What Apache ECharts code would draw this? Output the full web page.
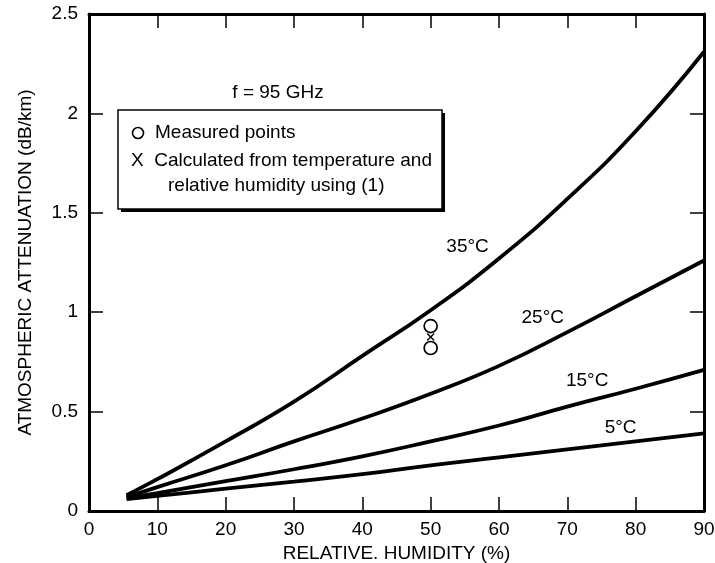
<!DOCTYPE html>
<html>
<head>
<meta charset="utf-8">
<script src="https://cdn.jsdelivr.net/npm/echarts@6/dist/echarts.min.js"></script>
<style>
  html, body { margin: 0; padding: 0; background: #fff; }
  #chart { width: 715px; height: 563px; }
</style>
</head>
<body>
<div id="chart"></div>
<script>
// relative humidity (%) sample points along each curve
const humidity = [5.5, 10, 20, 30, 40, 50, 60, 70, 80, 90]

// attenuation (dB/km)
const att35 = [0.08, 0.16, 0.35, 0.55, 0.78, 1.01, 1.27, 1.57, 1.91, 2.31]
const att25 = [0.07, 0.12, 0.23, 0.35, 0.465, 0.59, 0.73, 0.9, 1.08, 1.26]
const att15 = [0.065, 0.09, 0.15, 0.21, 0.275, 0.35, 0.43, 0.525, 0.615, 0.71]
const att5 = [0.06, 0.076, 0.112, 0.148, 0.185, 0.23, 0.27, 0.31, 0.35, 0.39]

const curveNames = ["35°C", "25°C", "15°C", "5°C"]
const curveLabelAt = [[55.4, 1.33], [66.4, 0.97], [72.9, 0.654], [77.8, 0.418]]

const measured = [[50, 0.93], [50, 0.82]]
const calculated = [[50, 0.875]]

const xTicks = [0, 10, 20, 30, 40, 50, 60, 70, 80, 90]
const yTicks = [0, 0.5, 1, 1.5, 2, 2.5]

const font = "'Liberation Sans', Arial, Helvetica, sans-serif"
const chart = echarts.init(document.getElementById("chart"))

const pair = ys => humidity.map((x, i) => [x, ys[i]])
const curve = (name, ys) => ({
  name,
  type: "line",
  data: pair(ys),
  smooth: true,
  symbol: "none",
  lineStyle: {color: "#000", width: 3.8},
  z: 3,
})

const axisCommon = {
  type: "value",
  axisLine: {show: true, onZero: false, lineStyle: {color: "#000", width: 3}},
  axisTick: {show: true, inside: true, length: 14, lineStyle: {color: "#000", width: 1.5}},
  splitLine: {show: false},
}

chart.setOption({
  animation: false,
  backgroundColor: "#fff",
  textStyle: {fontFamily: font, color: "#000"},
  grid: {left: 89, right: 11, top: 14, bottom: 52, outerBoundsMode: "none", containLabel: false},
  xAxis: [
    {
      ...axisCommon,
      min: 0, max: 90, interval: 10,
      name: "RELATIVE. HUMIDITY (%)",
      nameLocation: "middle",
      nameGap: 31,
      nameTextStyle: {fontFamily: font, fontSize: 19, color: "#000"},
      axisLabel: {
        fontFamily: font, fontSize: 19, color: "#000", margin: 9,
        formatter: v => (xTicks.includes(v) ? String(v) : ""),
      },
    },
    {...axisCommon, position: "top", min: 0, max: 90, interval: 10, axisLabel: {show: false}},
  ],
  yAxis: [
    {
      ...axisCommon,
      min: 0, max: 2.5, interval: 0.5,
      name: "ATMOSPHERIC ATTENUATION (dB/km)",
      nameLocation: "middle",
      nameGap: 54,
      nameTextStyle: {fontFamily: font, fontSize: 19, color: "#000"},
      axisLabel: {
        fontFamily: font, fontSize: 19, color: "#000", margin: 11,
        formatter: v => (yTicks.includes(v) ? String(v) : ""),
      },
    },
    {...axisCommon, position: "right", min: 0, max: 2.5, interval: 0.5, axisLabel: {show: false}},
  ],
  series: [
    curve("35°C", att35),
    curve("25°C", att25),
    curve("15°C", att15),
    curve("5°C", att5),
    {
      name: "Measured",
      type: "scatter",
      data: measured,
      symbol: "circle",
      symbolSize: 13,
      itemStyle: {color: "rgba(255,255,255,0)", borderColor: "#000", borderWidth: 1.7, opacity: 1},
      z: 4,
    },
    {
      name: "Calculated",
      type: "scatter",
      data: calculated,
      symbol: "path://M0,0L10,10M10,0L0,10",
      symbolSize: 7,
      itemStyle: {color: "none", borderColor: "#000", borderWidth: 1.4, opacity: 1},
      z: 5,
    },
    {
      name: "curve labels",
      type: "scatter",
      data: curveLabelAt.map((p, i) => ({value: p, name: curveNames[i]})),
      symbolSize: 0,
      silent: true,
      itemStyle: {opacity: 1},
      label: {
        show: true,
        position: "inside",
        formatter: p => p.name,
        fontFamily: font,
        fontSize: 19,
        color: "#000",
        opacity: 1,
      },
      z: 6,
    },
  ],
  graphic: [
    {
      type: "text",
      x: 278, y: 93,
      style: {text: "f = 95 GHz", font: "19px " + font, fill: "#000", align: "center", verticalAlign: "middle"},
    },
    // legend box with a drop shadow
    {type: "rect", shape: {x: 121, y: 113, width: 324, height: 99}, style: {fill: "#000"}, z: 10},
    {type: "rect", shape: {x: 118, y: 110, width: 324, height: 99}, style: {fill: "#fff", stroke: "#000", lineWidth: 1.5}, z: 11},
    {type: "circle", shape: {cx: 138, cy: 133, r: 5.5}, style: {fill: "none", stroke: "#000", lineWidth: 1.6}, z: 12},
    {
      type: "text", x: 155, y: 133, z: 12,
      style: {text: "Measured points", font: "19px " + font, fill: "#000", verticalAlign: "middle"},
    },
    {
      type: "text", x: 131, y: 161, z: 12,
      style: {text: "X  Calculated from temperature and", font: "19px " + font, fill: "#000", verticalAlign: "middle"},
    },
    {
      type: "text", x: 168, y: 186, z: 12,
      style: {text: "relative humidity using (1)", font: "19px " + font, fill: "#000", verticalAlign: "middle"},
    },
  ],
})
</script>
</body>
</html>
